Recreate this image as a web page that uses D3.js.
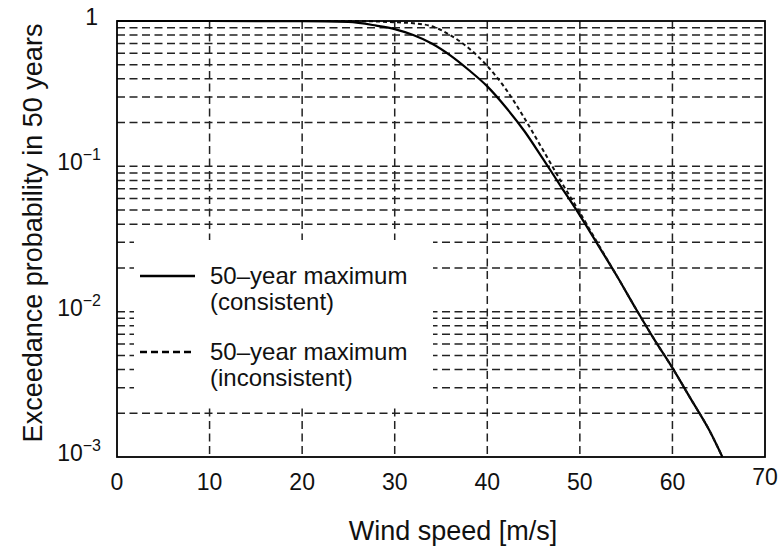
<!DOCTYPE html>
<html>
<head>
<meta charset="utf-8">
<script src="https://cdn.jsdelivr.net/npm/d3@7"></script>
<style>
  body { margin: 0; background: #fff; }
  svg { display: block; font-family: "Liberation Sans", Arial, sans-serif; }
</style>
</head>
<body>
<svg id="chart" width="783" height="551"></svg>
<script>
const speeds = [0, 10, 20, 25, 28, 30, 32, 34, 36, 38, 40, 42, 44, 46, 48, 50, 52, 54, 56, 58, 60, 62, 64, 65.4];
// exceedance probability, 50-year maximum (consistent)
const consistent = [1, 1, 0.999, 0.985, 0.93, 0.88, 0.8, 0.7, 0.58, 0.46, 0.355, 0.255, 0.175, 0.113, 0.072, 0.046, 0.0285, 0.0176, 0.0106, 0.0065, 0.0041, 0.0025, 0.00152, 0.001];
// exceedance probability, 50-year maximum (inconsistent)
const inconsistent = [1, 1, 1, 0.999, 0.993, 0.98, 0.965, 0.92, 0.8, 0.65, 0.49, 0.34, 0.215, 0.13, 0.078, 0.048, 0.029, 0.0176, 0.0106, 0.0065, 0.0041, 0.0025, 0.00152, 0.001];

const xTicks = [0, 10, 20, 30, 40, 50, 60, 70];
const yDecades = [1, 0.1, 0.01, 0.001];
const yTickLabels = [["1", ""], ["10", "\u22121"], ["10", "\u22122"], ["10", "\u22123"]];
const legendLabels = [
  ["50\u2013year maximum", "(consistent)"],
  ["50\u2013year maximum", "(inconsistent)"],
];

const svg = d3.select("#chart");
const margin = { top: 21, left: 117, right: 18, bottom: 94 };
const width = 783 - margin.left - margin.right;
const height = 551 - margin.top - margin.bottom;

const xScale = d3.scaleLinear().domain([0, 70]).range([0, width]);
const yScale = d3.scaleLog().domain([0.001, 1]).range([height, 0]);

const g = svg.append("g").attr("transform", `translate(${margin.left},${margin.top})`);

// horizontal grid at every log tick (1..9 x 10^k)
const gridValues = [];
for (let k = -3; k < 0; k++) {
  for (let m = 1; m < 10; m++) gridValues.push(+(m * Math.pow(10, k)).toPrecision(3));
}
g.append("g")
  .selectAll("line")
  .data(gridValues.filter((v) => v > 0.001))
  .join("line")
  .attr("x1", 0)
  .attr("x2", width)
  .attr("y1", (d) => yScale(d))
  .attr("y2", (d) => yScale(d))
  .attr("stroke", "#222")
  .attr("stroke-width", 1.5)
  .attr("stroke-dasharray", "8,4.5");

// vertical grid
g.append("g")
  .selectAll("line")
  .data(xTicks.slice(1, -1))
  .join("line")
  .attr("x1", (d) => xScale(d))
  .attr("x2", (d) => xScale(d))
  .attr("y1", 0)
  .attr("y2", height)
  .attr("stroke", "#222")
  .attr("stroke-width", 1.5)
  .attr("stroke-dasharray", "8,4.5");

// white legend box hides the grid behind it
g.append("rect")
  .attr("x", 134 - margin.left)
  .attr("y", 240 - margin.top)
  .attr("width", 299)
  .attr("height", 165)
  .attr("fill", "#fff");

// curves
const line = (vals) =>
  d3.line()
    .x((d, i) => xScale(speeds[i]))
    .y((d) => yScale(d))
    .curve(d3.curveMonotoneX)(vals);

g.append("path")
  .attr("d", line(consistent))
  .attr("fill", "none")
  .attr("stroke", "#000")
  .attr("stroke-width", 2.2);

g.append("path")
  .attr("d", line(inconsistent))
  .attr("fill", "none")
  .attr("stroke", "#111")
  .attr("stroke-width", 2)
  .attr("stroke-dasharray", "4,3");

// frame
g.append("rect")
  .attr("width", width)
  .attr("height", height)
  .attr("fill", "none")
  .attr("stroke", "#000")
  .attr("stroke-width", 1.8);

// x tick labels
g.append("g")
  .selectAll("text")
  .data(xTicks)
  .join("text")
  .attr("x", (d) => xScale(d))
  .attr("y", (d) => height + (d === 70 ? 28 : 33))
  .attr("text-anchor", "middle")
  .attr("font-size", 23)
  .attr("fill", "#111")
  .text((d) => d);

// y tick labels with superscript exponent
const yLab = g.append("g")
  .selectAll("text")
  .data(yDecades)
  .join("text")
  .attr("x", (d, i) => (i === 0 ? -19 : -16))
  .attr("y", (d) => yScale(d) + 4)
  .attr("text-anchor", "end")
  .attr("font-size", 23)
  .attr("fill", "#111");
yLab.append("tspan").text((d, i) => yTickLabels[i][0]);
yLab.append("tspan")
  .attr("font-size", 16)
  .attr("dy", -10)
  .text((d, i) => yTickLabels[i][1]);

// axis titles
svg.append("text")
  .attr("x", 453)
  .attr("y", 540)
  .attr("text-anchor", "middle")
  .attr("font-size", 27)
  .attr("fill", "#111")
  .text("Wind speed [m/s]");

svg.append("text")
  .attr("transform", "translate(42,233) rotate(-90)")
  .attr("text-anchor", "middle")
  .attr("font-size", 27)
  .attr("fill", "#111")
  .text("Exceedance probability in 50 years");

// legend
const legend = svg.append("g");
const legendY = [276, 352];
legendLabels.forEach((lab, i) => {
  legend.append("line")
    .attr("x1", 140)
    .attr("x2", 195)
    .attr("y1", legendY[i])
    .attr("y2", legendY[i])
    .attr("stroke", "#000")
    .attr("stroke-width", 2.4)
    .attr("stroke-dasharray", i === 0 ? null : "7,4");
  const t = legend.append("text")
    .attr("x", 210)
    .attr("y", legendY[i] + 8)
    .attr("font-size", 24)
    .attr("fill", "#111");
  t.append("tspan").text(lab[0]);
  t.append("tspan").attr("x", 210).attr("dy", 26).text(lab[1]);
});
</script>
</body>
</html>
